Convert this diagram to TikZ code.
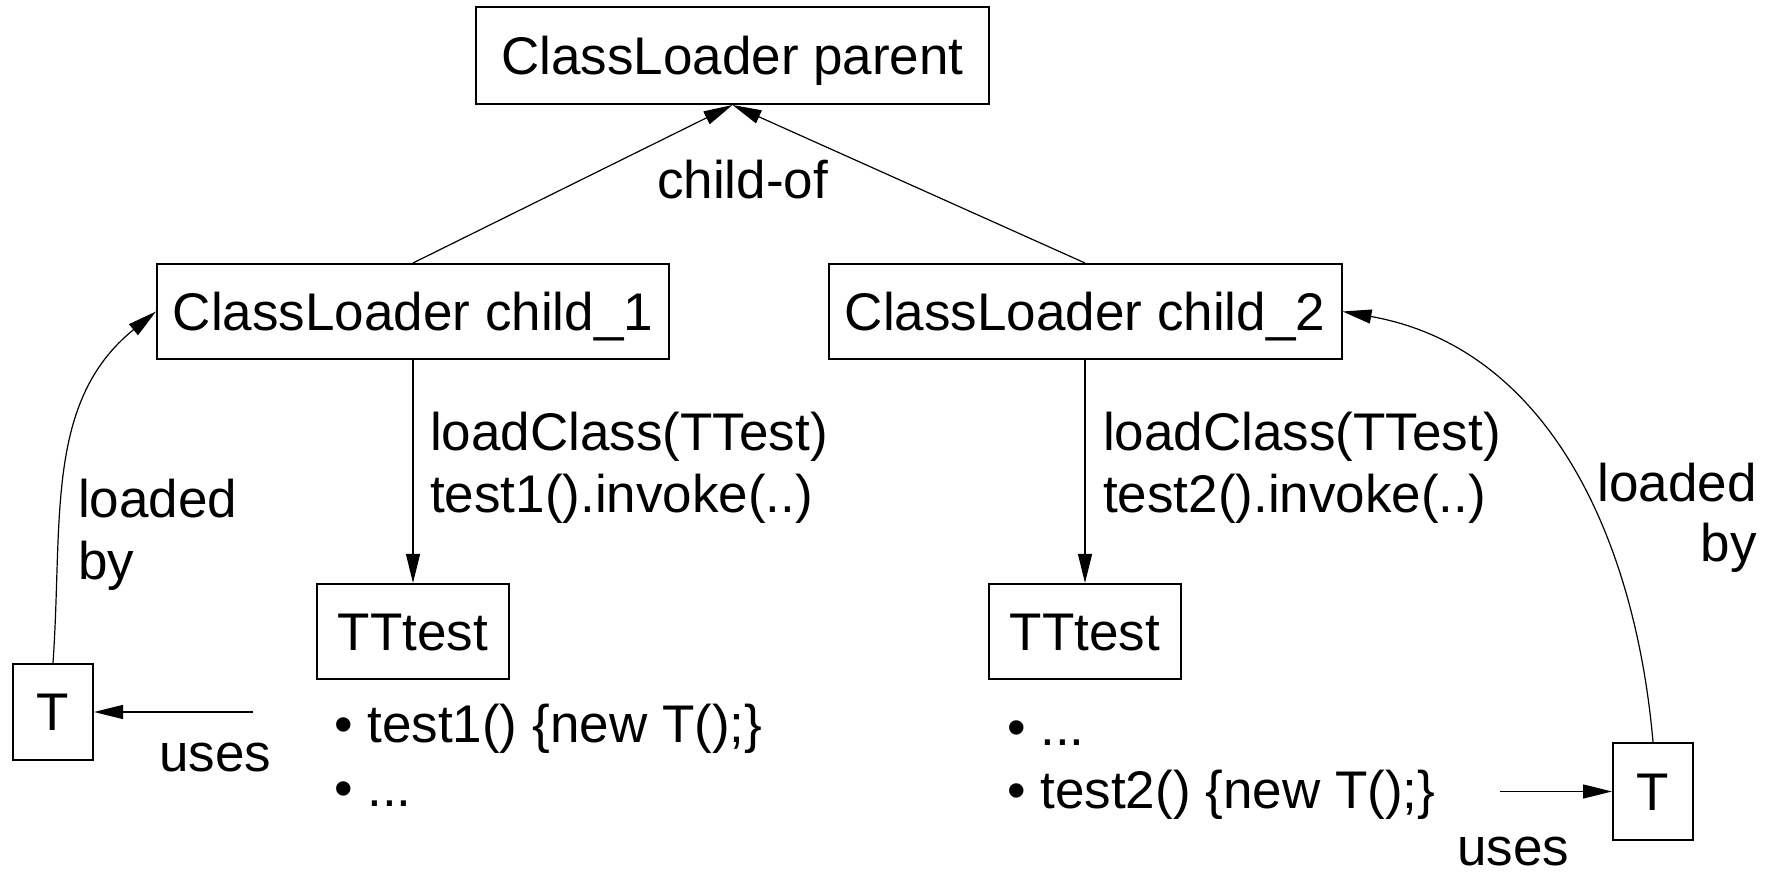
\documentclass[tikz,border=0pt]{standalone}
\usepackage{fontspec}
\setmainfont{Liberation Sans}
\usetikzlibrary{arrows.meta}
\begin{document}
\begin{tikzpicture}[x=1pt,y=1pt,
  every node/.style={font=\fontsize{53}{62}\selectfont},
  box/.style={draw, line width=2pt, inner sep=0pt, text height=38pt, text depth=0pt, anchor=center},
  conn/.style={line width=1.2pt, -{Triangle[length=29pt,width=14pt]}},
  lbl/.style={inner sep=0pt, anchor=base west}]
\useasboundingbox (0,0) rectangle (1776,874);
% boxes
\node[box, minimum width=513pt, minimum height=97pt] (parent) at (732.5,818.5) {ClassLoader parent};
\node[box, minimum width=512pt, minimum height=95pt] (c1) at (413,562.5) {ClassLoader child\_1};
\node[box, minimum width=513pt, minimum height=95pt] (c2) at (1085,562.5) {ClassLoader child\_2};
\node[box, minimum width=192pt, minimum height=95pt] (tt1) at (413,242.5) {TTtest};
\node[box, minimum width=192pt, minimum height=95pt] (tt2) at (1085,242.5) {TTtest};
\node[box, minimum width=80pt, minimum height=96pt] (t1) at (53,162) {T};
\node[box, minimum width=80pt, minimum height=97pt] (t2) at (1653,82.5) {T};
% connectors
\draw[conn] (c1.north) -- (parent.south);
\draw[conn] (c2.north) -- (parent.south);
\draw[conn] (c1.south) -- (tt1.north);
\draw[conn] (c2.south) -- (tt2.north);
\draw[conn] (t1.north) to[out=86,in=219] (c1.west);
\draw[conn] (t2.north) to[out=95,in=-10] (c2.east);
\coordinate (u1) at (253,162);
\coordinate (u2) at (1500,82.5);
\draw[conn] (u1) -- (t1.east);
\draw[conn] (u2) -- (t2.west);
% labels
\node[lbl, anchor=base] (childof) at (742.5,675) {child-of};
\node[lbl] (lc1) at (430,423) {loadClass(TTest)};
\node[lbl] (inv1) at (430,361) {test1().invoke(..)};
\node[lbl] (lc2) at (1103,423) {loadClass(TTest)};
\node[lbl] (inv2) at (1103,361) {test2().invoke(..)};
\node[lbl] (ld1) at (78,356) {loaded};
\node[lbl] (by1) at (78,294) {by};
\node[lbl, anchor=base east] (ld2) at (1757,372) {loaded};
\node[lbl, anchor=base east] (by2) at (1757,312) {by};
\node[lbl] (us1) at (159,102) {uses};
\node[lbl] (us2) at (1457,8) {uses};
\node[lbl] (b1a) at (334,131) {• test1() \{new T();\}};
\node[lbl] (b1b) at (334,67) {• ...};
\node[lbl] (b2a) at (1007,128) {• ...};
\node[lbl] (b2b) at (1007,65) {• test2() \{new T();\}};
\end{tikzpicture}
\end{document}
